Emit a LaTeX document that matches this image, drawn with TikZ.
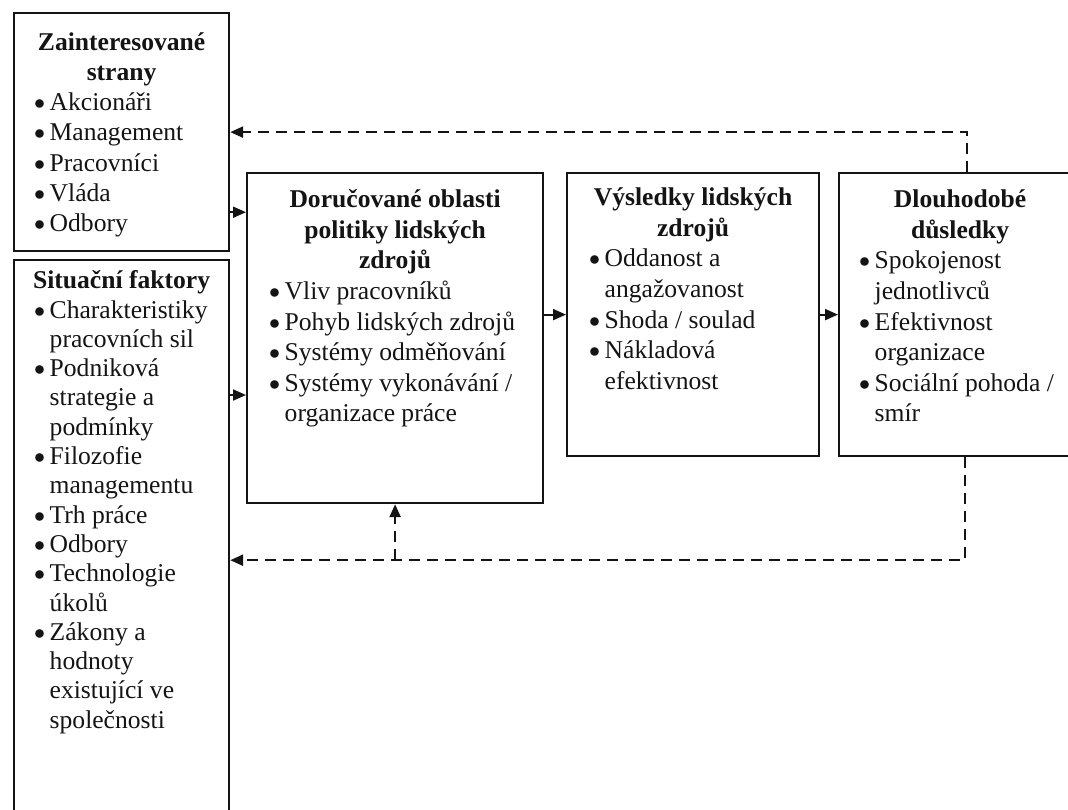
\documentclass[tikz,border=0pt]{standalone}
\usepackage{fontspec}
\setmainfont{Liberation Serif}
\usetikzlibrary{arrows.meta,positioning,calc}
\definecolor{inkblack}{RGB}{20,20,20}
\newcommand{\hrtitle}[1]{\par\centerline{\strut\bfseries #1}}
\newcommand{\hritem}[1]{\par\hangindent=7.8pt\hangafter=1\noindent
  \makebox[7.8pt][l]{\raisebox{0.5pt}{\scalebox{0.92}{$\bullet$}}}{\let\\\newline #1}\par}
\tikzset{
  hrbox/.style={rectangle, draw=inkblack, line width=1.1pt, inner sep=0pt, anchor=north west},
  hrtext/.style={inner sep=0pt, anchor=north, align=flush left, text=inkblack,
                 font=\fontsize{12.8}{15.3}\selectfont},
  hrflow/.style={-{Triangle[length=6.5pt, width=5.5pt]}, line width=1pt, inkblack},
  hrback/.style={hrflow, line width=1.2pt, dash pattern=on 5.5pt off 3.5pt},
}
\begin{document}
\begin{tikzpicture}[x=0.5pt, y=-0.5pt]
\useasboundingbox (0,0) rectangle (1068,809);
% frames
\node[hrbox, minimum width=107.5pt, minimum height=119pt] (stake) at (13,12) {};
\node[hrbox, minimum width=107.5pt, minimum height=285.5pt] (situ) at (13,259) {};
\node[hrbox, minimum width=148pt, minimum height=165pt] (policy) at (246,172) {};
\node[hrbox, minimum width=126pt, minimum height=141.5pt] (results) at (566,172) {};
\node[hrbox, minimum width=121pt, minimum height=141.5pt] (effects) at (838,172) {};
% texts
\node[hrtext, text width=87.5pt, below=3.8pt of stake.north,
      font=\fontsize{12.8}{15.1}\selectfont] (staketext) {%
  \hrtitle{Zainteresované}\hrtitle{strany}
  \hritem{Akcionáři}\hritem{Management}\hritem{Pracovníci}\hritem{Vláda}\hritem{Odbory}};
\node[hrtext, text width=87.5pt, below=0pt of situ.north,
      font=\fontsize{12.8}{14.65}\selectfont] (situtext) {%
  \hrtitle{Situační faktory}
  \hritem{Charakteristiky\\pracovních sil}\hritem{Podniková\\strategie a\\podmínky}
  \hritem{Filozofie\\managementu}\hritem{Trh práce}\hritem{Odbory}
  \hritem{Technologie\\úkolů}\hritem{Zákony a\\hodnoty\\existující ve\\společnosti}};
\node[hrtext, text width=126pt, below=2.3pt of policy.north] (policytext) {%
  \hrtitle{Doručované oblasti}\hrtitle{politiky lidských}\hrtitle{zdrojů}
  \hritem{Vliv pracovníků}\hritem{Pohyb lidských zdrojů}\hritem{Systémy odměňování}
  \hritem{Systémy vykonávání /\\organizace práce}};
\node[hrtext, text width=104pt, below=1.3pt of results.north] (resultstext) {%
  \hrtitle{Výsledky lidských}\hrtitle{zdrojů}
  \hritem{Oddanost a\\angažovanost}\hritem{Shoda / soulad}\hritem{Nákladová\\efektivnost}};
\node[hrtext, text width=101pt, below=2.3pt of effects.north] (effectstext) {%
  \hrtitle{Dlouhodobé}\hrtitle{důsledky}
  \hritem{Spokojenost\\jednotlivců}\hritem{Efektivnost\\organizace}\hritem{Sociální pohoda /\\smír}};
% connectors
\draw[hrflow] ([yshift=20pt]stake.south east) coordinate (s1) -- (s1 -| policy.west);
\draw[hrflow] ([yshift=-68pt]situ.north east) coordinate (s2) -- (s2 -| policy.west);
\draw[hrflow] (policy.east |- results.west) -- (results.west);
\draw[hrflow] (results.east) -- (effects.west);
% feedback
\draw[hrback] ([xshift=64.5pt]effects.north west) |- (stake.east);
\draw[hrback] ([xshift=63.5pt]effects.south west) -- ++(0,103) coordinate (f2) -- (f2 -| situ.east);
\draw[hrback] (f2 -| policy.south) -- (policy.south);
\end{tikzpicture}
\end{document}
